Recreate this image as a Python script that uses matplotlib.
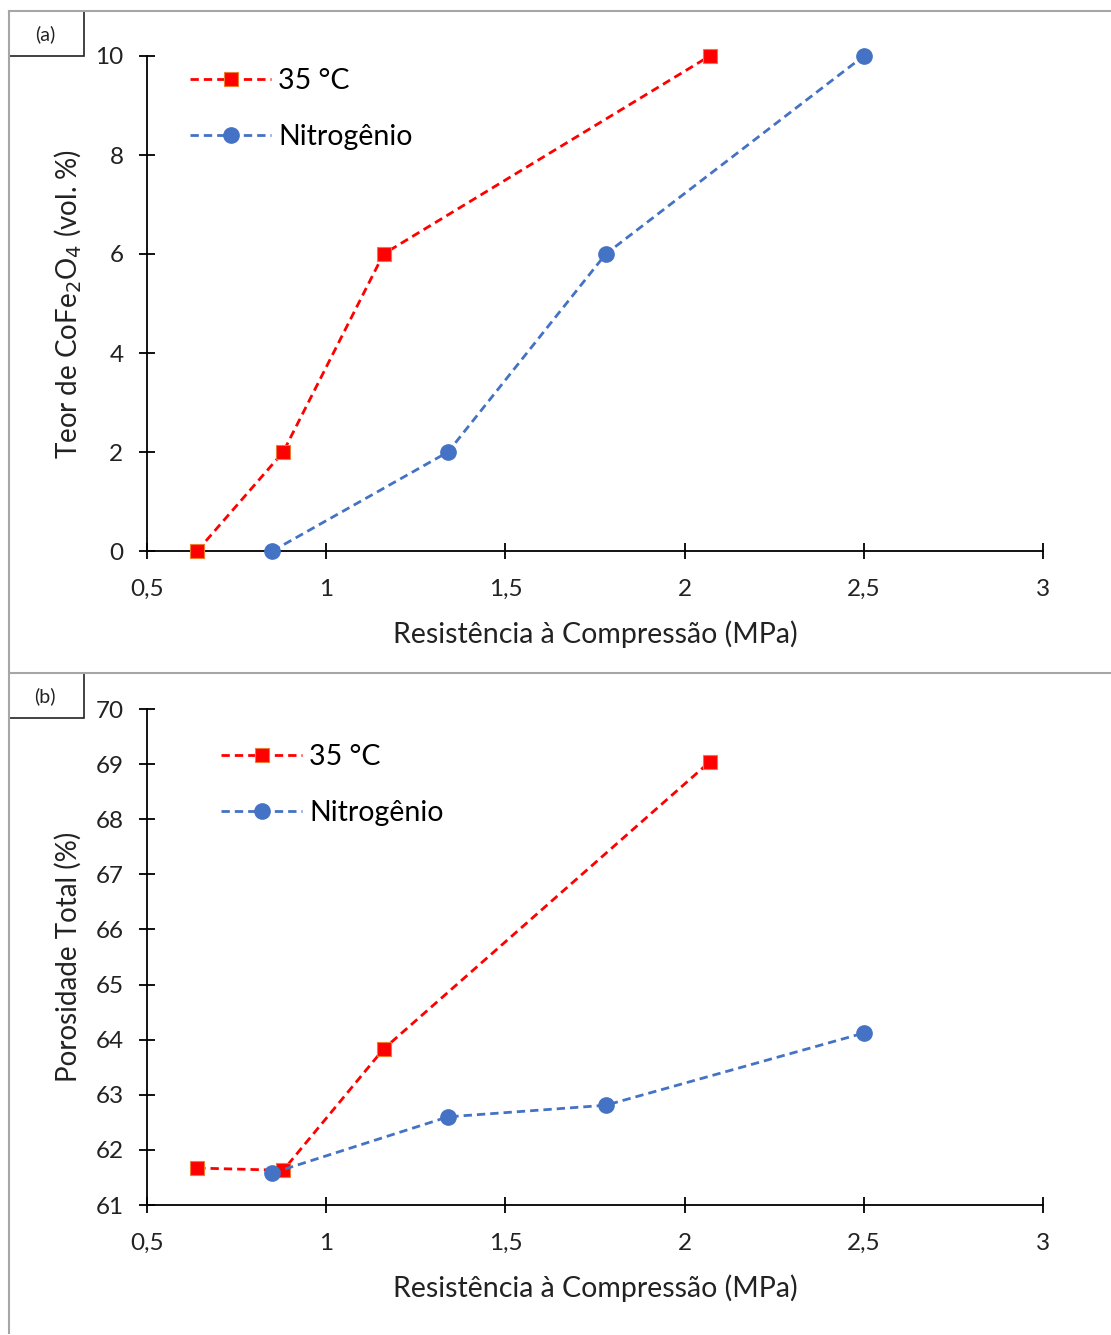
import matplotlib
matplotlib.use("Agg")
import matplotlib.pyplot as plt
from matplotlib.patches import Rectangle
from matplotlib.lines import Line2D
from matplotlib.ticker import FuncFormatter

# -----------------------------
# Data
# -----------------------------
x_35c = [0.64, 0.88, 1.16, 2.07]
x_n2 = [0.85, 1.34, 1.78, 2.50]

teor_35c = [0, 2, 6, 10]
teor_n2 = [0, 2, 6, 10]

poros_35c = [61.67, 61.63, 63.83, 69.04]
poros_n2 = [61.58, 62.60, 62.81, 64.12]

x_ticks = [0.5, 1, 1.5, 2, 2.5, 3]
teor_ticks = [0, 2, 4, 6, 8, 10]
poros_ticks = [61, 62, 63, 64, 65, 66, 67, 68, 69, 70]

labels = ["35 °C", "Nitrogênio"]
RED = "#FF0000"
RED_EDGE = "#ED7D31"
BLUE = "#4472C4"

plt.rcParams['font.family'] = ['Lato', 'DejaVu Sans']

W, H = 1111, 1335
fig = plt.figure(figsize=(W / 100, H / 100), dpi=100)


def fx(px):
    return px / W


def fy(py):
    return 1 - py / H


def comma(v, pos):
    s = f"{v:g}"
    return s.replace(".", ",")


def make_panel(top_px, bottom_px, y35, yn2, ylim, yticks, ylabel, legend_xy):
    ax = fig.add_axes([fx(147), fy(bottom_px), fx(1043 - 147), (bottom_px - top_px) / H])
    ax.plot(x_35c, y35, ls=(0, (3, 1.8)), lw=2.0, color=RED, marker="s", ms=10.5,
            mfc=RED, mec=RED_EDGE, mew=0.8, label=labels[0], zorder=3)
    ax.plot(x_n2, yn2, ls=(0, (3, 1.8)), lw=2.0, color=BLUE, marker="o", ms=11,
            mfc=BLUE, mec=BLUE, label=labels[1], zorder=3)
    ax.set_xlim(0.5, 3)
    ax.set_ylim(*ylim)
    ax.set_xticks(x_ticks)
    ax.set_yticks(yticks)
    ax.xaxis.set_major_formatter(FuncFormatter(comma))
    ax.spines['top'].set_visible(False)
    ax.spines['right'].set_visible(False)
    for s in ['left', 'bottom']:
        ax.spines[s].set_linewidth(1.3)
    ax.tick_params(direction='inout', length=12, width=1.3, labelsize=17.5, color='black')
    ax.tick_params(axis='y', pad=11)
    ax.tick_params(axis='x', pad=14)
    for t in ax.get_xticklabels() + ax.get_yticklabels():
        t.set_color('#222222')
    ax.patch.set_alpha(0)
    for ln in ax.lines:
        ln.set_clip_on(False)

    fig.text(fx(595), fy(bottom_px + 83), "Resistência à Compressão (MPa)",
             ha='center', va='center', fontsize=20.5, color='#222222')
    fig.text(fx(68), fy((top_px + bottom_px) / 2), ylabel, rotation=90,
             ha='center', va='center', fontsize=20, color='#222222')

    ax.legend(loc='upper left', bbox_to_anchor=(fx(legend_xy[0]), fy(legend_xy[1])),
              bbox_transform=fig.transFigure, frameon=False, fontsize=20.5,
              handlelength=2.85, handletextpad=0.25, labelspacing=1.05,
              borderpad=0, borderaxespad=0, numpoints=1)
    return ax


make_panel(56, 551, teor_35c, teor_n2, (0, 10), teor_ticks,
           "Teor de CoFe$_2$O$_4$ (vol. %)", (190, 68))
make_panel(709, 1205, poros_35c, poros_n2, (61, 70), poros_ticks,
           "Porosidade Total (%)", (221, 744))

# frame lines around the figure
gray = "#A6A6A6"
fig.add_artist(Line2D([fx(9), 1], [fy(11), fy(11)], color=gray, lw=1.5))
fig.add_artist(Line2D([fx(9), 1], [fy(673), fy(673)], color=gray, lw=1.5))
fig.add_artist(Line2D([fx(9), fx(9)], [fy(11), fy(1333)], color=gray, lw=1.5))

# panel label boxes
for top, txt in [(11, "(a)"), (673, "(b)")]:
    fig.add_artist(Rectangle((fx(9), fy(top + 45)), fx(75), 45 / H,
                             transform=fig.transFigure, fill=False,
                             edgecolor='#222222', lw=1.2))
    fig.text(fx(45), fy(top + 23), txt, ha='center', va='center',
             fontsize=14, color='#222222')

fig.savefig("out.png", dpi=100)
